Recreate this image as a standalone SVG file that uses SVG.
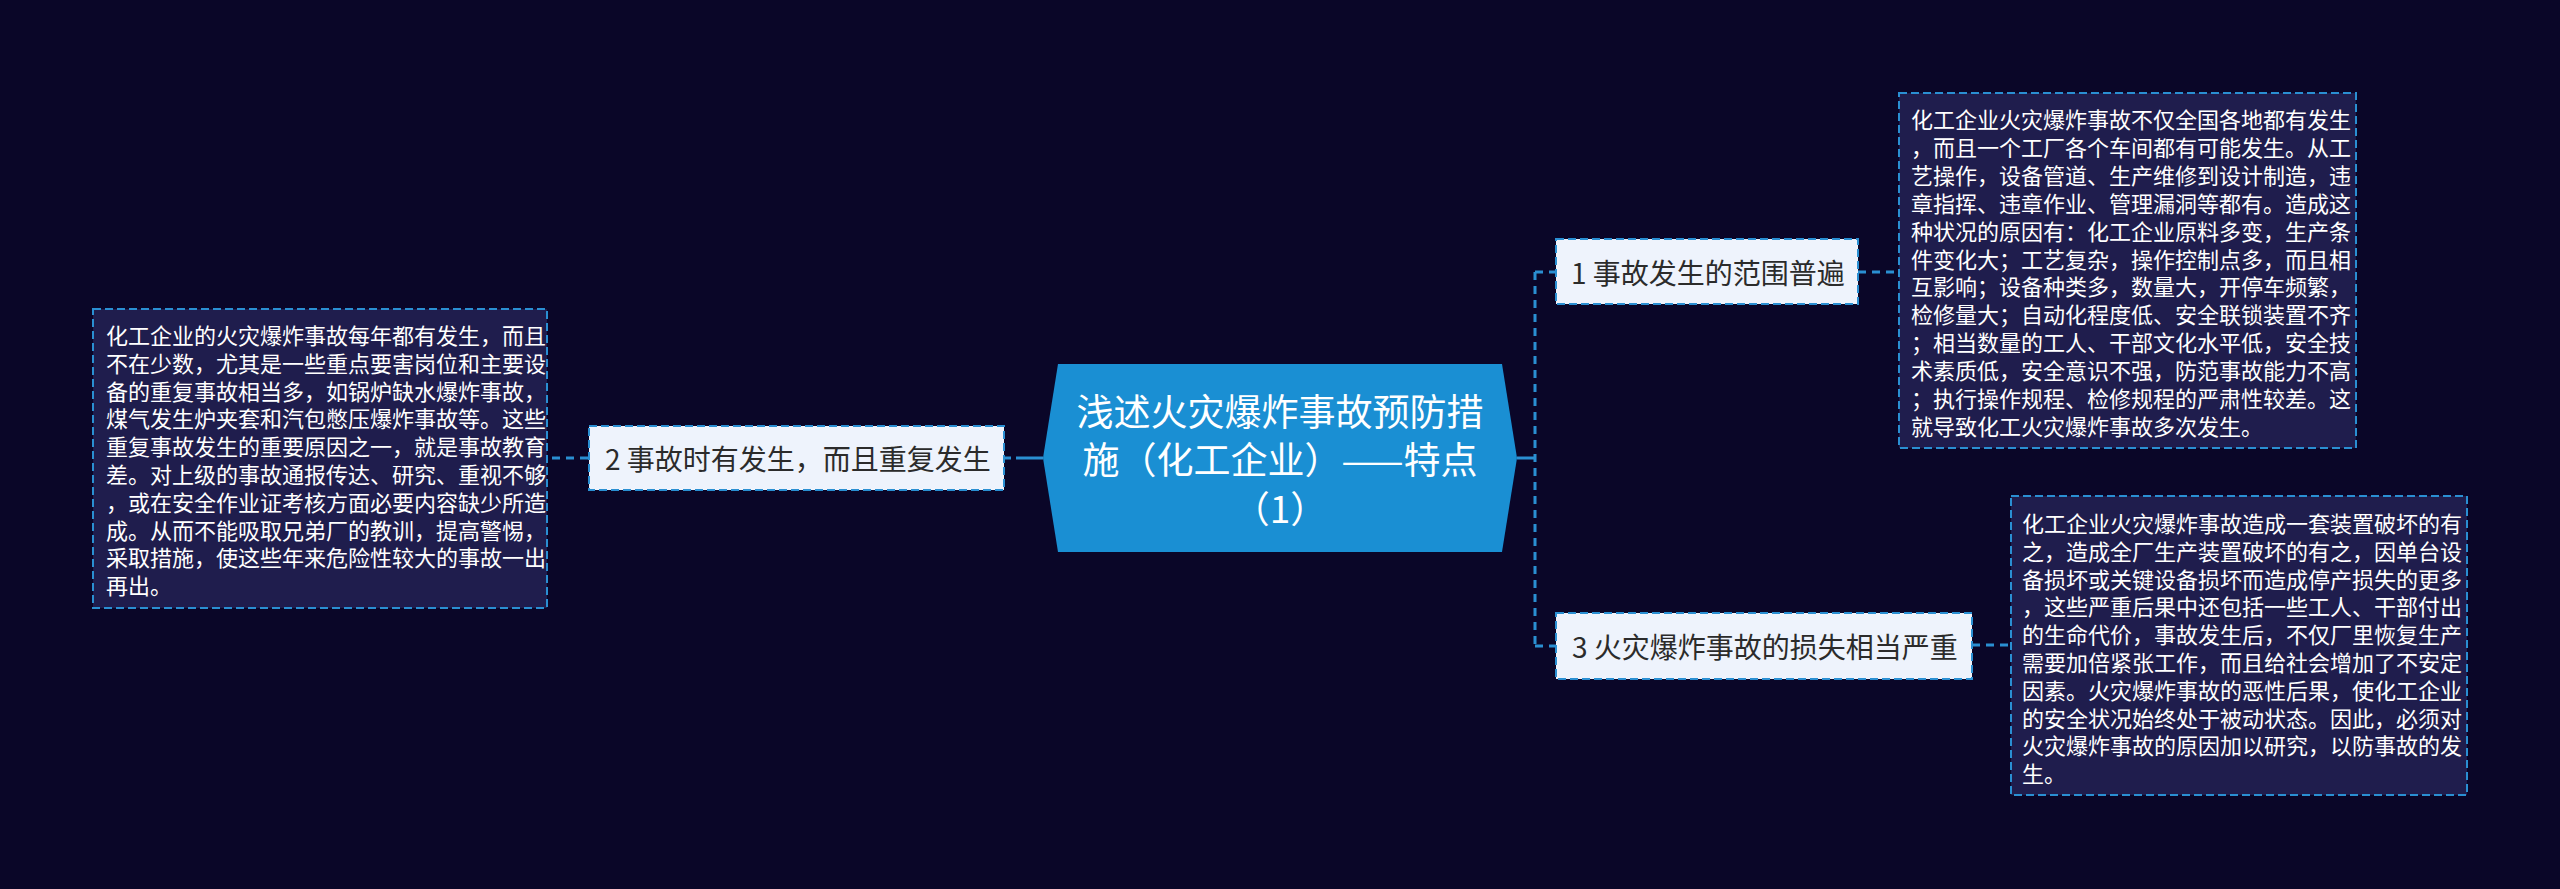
<svg xmlns="http://www.w3.org/2000/svg" width="2560" height="889" viewBox="0 0 2560 889">
<style>
.bg{fill:#0a0628}
.conn{fill:none;stroke:#2a8fd2;stroke-width:3}
.dash{stroke-dasharray:8 6}
.topic{fill:#eef3fc;stroke:#2a8fd2;stroke-width:2;stroke-dasharray:8 4}
.desc{fill:#1f1d4d;stroke:#2a8fd2;stroke-width:2;stroke-dasharray:8 4}
.t{font-family:"Noto Sans CJK SC","Noto Sans",sans-serif;dominant-baseline:central}
.tt{font-size:28px;fill:#2b2b2b}
.dt{font-size:22px;fill:#ffffff}
.ct{font-size:37px;fill:#ffffff;text-anchor:middle}
</style>
<rect class="bg" x="0" y="0" width="2560" height="889"/>
<g id="connectors">
<path class="conn" d="M1043 458 H1001" style="stroke-dasharray:27 5 10"/>
<path class="conn dash" d="M588 458 H547"/>
<path class="conn" d="M1517 458 H1535"/>
<path class="conn dash" d="M1535 272 V646"/>
<path class="conn dash" d="M1535 272 H1556"/>
<path class="conn dash" d="M1535 646 H1556"/>
<path class="conn dash" d="M1858 272 H1899"/>
<path class="conn dash" d="M1972 645 H2011"/>
</g>
<g id="central">
<polygon points="1058,364 1502,364 1517,458 1502,552 1058,552 1043,458" fill="#1a8fd3"/>
<text class="t ct" x="1280" y="410">浅述火灾爆炸事故预防措</text>
<text class="t ct" x="1280" y="458">施（化工企业）——特点</text>
<text class="t ct" x="1280" y="507">（1）</text>
</g>
<g id="node1">
<rect class="topic" x="1556" y="239" width="302" height="65"/>
<text class="t tt" x="1571" y="271.5">1 事故发生的范围普遍</text>
</g>
<g id="node2">
<rect class="topic" x="589" y="426" width="415" height="64"/>
<text class="t tt" x="605" y="458">2 事故时有发生，而且重复发生</text>
</g>
<g id="node3">
<rect class="topic" x="1556" y="613" width="416" height="66"/>
<text class="t tt" x="1572" y="646">3 火灾爆炸事故的损失相当严重</text>
</g>
<g id="desc1">
<rect class="desc" x="1899" y="93" width="457" height="355"/>
<text class="t dt" x="1911" y="118">化工企业火灾爆炸事故不仅全国各地都有发生</text>
<text class="t dt" x="1911" y="145.9">，而且一个工厂各个车间都有可能发生。从工</text>
<text class="t dt" x="1911" y="173.8">艺操作，设备管道、生产维修到设计制造，违</text>
<text class="t dt" x="1911" y="201.7">章指挥、违章作业、管理漏洞等都有。造成这</text>
<text class="t dt" x="1911" y="229.6">种状况的原因有：化工企业原料多变，生产条</text>
<text class="t dt" x="1911" y="257.5">件变化大；工艺复杂，操作控制点多，而且相</text>
<text class="t dt" x="1911" y="285.4">互影响；设备种类多，数量大，开停车频繁，</text>
<text class="t dt" x="1911" y="313.3">检修量大；自动化程度低、安全联锁装置不齐</text>
<text class="t dt" x="1911" y="341.2">；相当数量的工人、干部文化水平低，安全技</text>
<text class="t dt" x="1911" y="369.1">术素质低，安全意识不强，防范事故能力不高</text>
<text class="t dt" x="1911" y="397">；执行操作规程、检修规程的严肃性较差。这</text>
<text class="t dt" x="1911" y="424.9">就导致化工火灾爆炸事故多次发生。</text>
</g>
<g id="desc2">
<rect class="desc" x="93" y="309" width="454" height="299"/>
<text class="t dt" x="106" y="334">化工企业的火灾爆炸事故每年都有发生，而且</text>
<text class="t dt" x="106" y="361.8">不在少数，尤其是一些重点要害岗位和主要设</text>
<text class="t dt" x="106" y="389.6">备的重复事故相当多，如锅炉缺水爆炸事故，</text>
<text class="t dt" x="106" y="417.4">煤气发生炉夹套和汽包憋压爆炸事故等。这些</text>
<text class="t dt" x="106" y="445.2">重复事故发生的重要原因之一，就是事故教育</text>
<text class="t dt" x="106" y="473">差。对上级的事故通报传达、研究、重视不够</text>
<text class="t dt" x="106" y="500.8">，或在安全作业证考核方面必要内容缺少所造</text>
<text class="t dt" x="106" y="528.6">成。从而不能吸取兄弟厂的教训，提高警惕，</text>
<text class="t dt" x="106" y="556.4">采取措施，使这些年来危险性较大的事故一出</text>
<text class="t dt" x="106" y="584.2">再出。</text>
</g>
<g id="desc3">
<rect class="desc" x="2011" y="496" width="456" height="299"/>
<text class="t dt" x="2022" y="522">化工企业火灾爆炸事故造成一套装置破坏的有</text>
<text class="t dt" x="2022" y="549.8">之，造成全厂生产装置破坏的有之，因单台设</text>
<text class="t dt" x="2022" y="577.6">备损坏或关键设备损坏而造成停产损失的更多</text>
<text class="t dt" x="2022" y="605.4">，这些严重后果中还包括一些工人、干部付出</text>
<text class="t dt" x="2022" y="633.2">的生命代价，事故发生后，不仅厂里恢复生产</text>
<text class="t dt" x="2022" y="661">需要加倍紧张工作，而且给社会增加了不安定</text>
<text class="t dt" x="2022" y="688.8">因素。火灾爆炸事故的恶性后果，使化工企业</text>
<text class="t dt" x="2022" y="716.6">的安全状况始终处于被动状态。因此，必须对</text>
<text class="t dt" x="2022" y="744.4">火灾爆炸事故的原因加以研究，以防事故的发</text>
<text class="t dt" x="2022" y="772.2">生。</text>
</g>
</svg>
